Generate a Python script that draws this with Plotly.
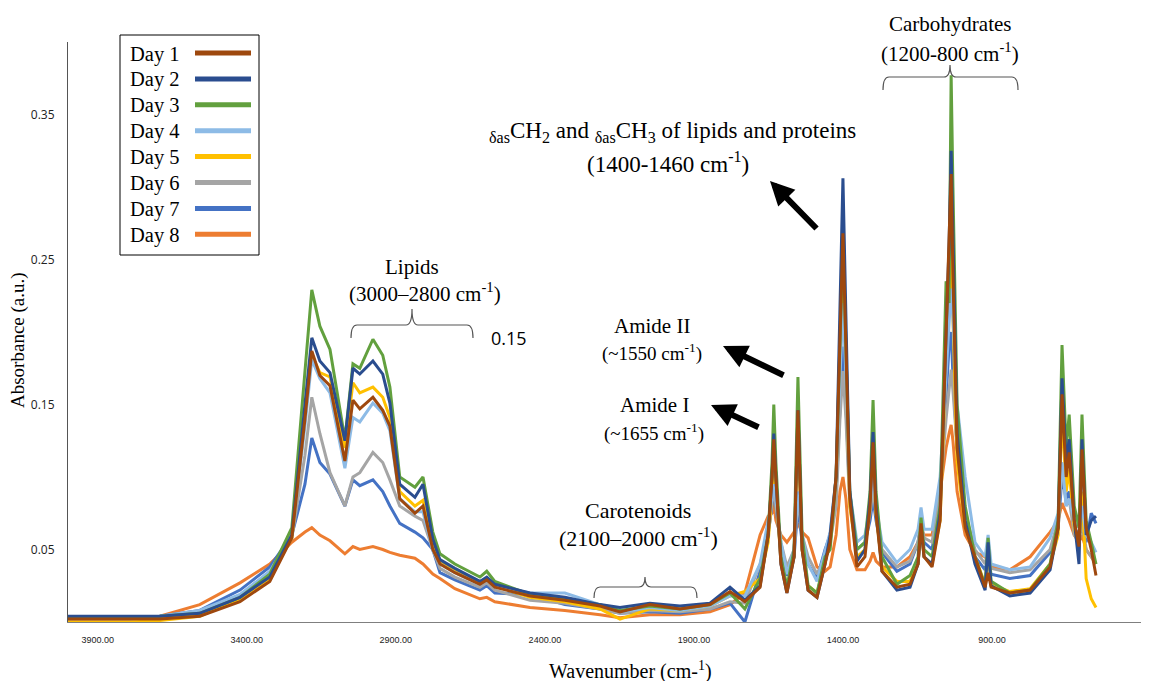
import plotly.graph_objects as go

# ---------------- data ----------------
wavenumber = [4000, 3893, 3793, 3692, 3558, 3423, 3323, 3249, 3205, 3182,
              3155, 3121, 3071, 3044, 3021, 2977, 2944, 2920, 2887, 2836,
              2809, 2776, 2752, 2702, 2618, 2595, 2568, 2450, 2333, 2215,
              2148, 2048, 1947, 1846, 1779, 1729, 1678, 1651, 1638, 1632,
              1625, 1608, 1588, 1564, 1551, 1537, 1517, 1487, 1460, 1443,
              1423, 1410, 1400, 1390, 1377, 1353, 1326, 1309, 1299, 1289,
              1269, 1219, 1175, 1148, 1138, 1128, 1101, 1074, 1054, 1044,
              1037, 1031, 1017, 990, 957, 923, 913, 903, 840, 772,
              705, 678, 665, 651, 641, 624, 608, 598, 584, 567,
              551]

day1 = [0.002, 0.002, 0.002, 0.002, 0.004, 0.014, 0.028, 0.058, 0.140, 0.187,
        0.170, 0.163, 0.111, 0.153, 0.147, 0.155, 0.146, 0.135, 0.085, 0.075,
        0.080, 0.050, 0.040, 0.034, 0.026, 0.029, 0.024, 0.018, 0.015, 0.011,
        0.007, 0.012, 0.009, 0.012, 0.021, 0.014, 0.024, 0.060, 0.100, 0.126,
        0.100, 0.040, 0.020, 0.045, 0.146, 0.050, 0.022, 0.017, 0.040, 0.055,
        0.100, 0.200, 0.268, 0.190, 0.085, 0.038, 0.045, 0.080, 0.124, 0.075,
        0.035, 0.024, 0.026, 0.040, 0.068, 0.045, 0.038, 0.070, 0.200, 0.250,
        0.309, 0.240, 0.120, 0.065, 0.045, 0.024, 0.034, 0.024, 0.020, 0.022,
        0.038, 0.065, 0.157, 0.100, 0.117, 0.070, 0.052, 0.119, 0.065, 0.050,
        0.032]

day2 = [0.004, 0.004, 0.004, 0.004, 0.006, 0.017, 0.031, 0.060, 0.150, 0.196,
        0.180, 0.172, 0.125, 0.175, 0.171, 0.180, 0.171, 0.151, 0.095, 0.086,
        0.095, 0.057, 0.043, 0.037, 0.028, 0.031, 0.026, 0.020, 0.017, 0.012,
        0.010, 0.013, 0.011, 0.013, 0.024, 0.015, 0.025, 0.060, 0.100, 0.130,
        0.100, 0.040, 0.020, 0.045, 0.146, 0.050, 0.022, 0.017, 0.040, 0.060,
        0.100, 0.220, 0.306, 0.210, 0.090, 0.042, 0.050, 0.085, 0.131, 0.080,
        0.035, 0.022, 0.024, 0.040, 0.066, 0.045, 0.040, 0.075, 0.200, 0.260,
        0.325, 0.260, 0.130, 0.070, 0.040, 0.022, 0.055, 0.025, 0.018, 0.020,
        0.036, 0.065, 0.168, 0.110, 0.126, 0.070, 0.040, 0.126, 0.060, 0.070,
        0.073]

day3 = [0.003, 0.003, 0.003, 0.004, 0.006, 0.017, 0.033, 0.065, 0.170, 0.229,
        0.204, 0.188, 0.126, 0.178, 0.175, 0.195, 0.184, 0.162, 0.100, 0.093,
        0.100, 0.062, 0.047, 0.040, 0.031, 0.035, 0.028, 0.019, 0.016, 0.012,
        0.008, 0.011, 0.009, 0.012, 0.020, 0.009, 0.030, 0.060, 0.110, 0.150,
        0.110, 0.045, 0.024, 0.050, 0.169, 0.060, 0.025, 0.020, 0.045, 0.050,
        0.100, 0.200, 0.262, 0.190, 0.090, 0.050, 0.055, 0.090, 0.153, 0.090,
        0.045, 0.026, 0.032, 0.045, 0.072, 0.050, 0.045, 0.080, 0.235, 0.220,
        0.377, 0.300, 0.150, 0.080, 0.045, 0.025, 0.058, 0.028, 0.020, 0.022,
        0.040, 0.070, 0.191, 0.120, 0.143, 0.080, 0.065, 0.143, 0.070, 0.055,
        0.040]

day4 = [0.003, 0.003, 0.003, 0.004, 0.008, 0.019, 0.035, 0.060, 0.135, 0.181,
        0.168, 0.158, 0.106, 0.141, 0.138, 0.151, 0.144, 0.132, 0.085, 0.076,
        0.076, 0.049, 0.040, 0.034, 0.026, 0.029, 0.025, 0.020, 0.020, 0.012,
        0.007, 0.010, 0.008, 0.011, 0.018, 0.018, 0.040, 0.070, 0.085, 0.095,
        0.085, 0.055, 0.033, 0.050, 0.090, 0.060, 0.040, 0.028, 0.050, 0.062,
        0.100, 0.170, 0.220, 0.170, 0.090, 0.055, 0.060, 0.080, 0.100, 0.080,
        0.055, 0.041, 0.050, 0.064, 0.079, 0.064, 0.064, 0.100, 0.170, 0.200,
        0.230, 0.210, 0.150, 0.100, 0.055, 0.045, 0.060, 0.040, 0.036, 0.038,
        0.058, 0.075, 0.110, 0.080, 0.085, 0.070, 0.065, 0.080, 0.060, 0.055,
        0.048]

day5 = [0.000, 0.000, 0.000, 0.001, 0.004, 0.016, 0.030, 0.058, 0.140, 0.184,
        0.172, 0.169, 0.120, 0.165, 0.158, 0.162, 0.155, 0.141, 0.090, 0.080,
        0.084, 0.053, 0.041, 0.035, 0.027, 0.030, 0.025, 0.017, 0.014, 0.009,
        0.002, 0.009, 0.008, 0.011, 0.018, 0.021, 0.030, 0.055, 0.090, 0.115,
        0.090, 0.042, 0.024, 0.045, 0.130, 0.050, 0.025, 0.020, 0.042, 0.055,
        0.100, 0.190, 0.245, 0.180, 0.080, 0.045, 0.050, 0.080, 0.115, 0.075,
        0.038, 0.028, 0.028, 0.040, 0.064, 0.045, 0.040, 0.070, 0.180, 0.220,
        0.270, 0.210, 0.110, 0.065, 0.045, 0.026, 0.050, 0.026, 0.021, 0.023,
        0.040, 0.060, 0.145, 0.090, 0.105, 0.065, 0.050, 0.090, 0.030, 0.016,
        0.010]

day6 = [0.002, 0.002, 0.002, 0.003, 0.006, 0.017, 0.032, 0.058, 0.115, 0.155,
        0.130, 0.103, 0.080, 0.100, 0.103, 0.117, 0.110, 0.098, 0.080, 0.073,
        0.070, 0.050, 0.037, 0.031, 0.024, 0.027, 0.022, 0.015, 0.013, 0.009,
        0.006, 0.008, 0.007, 0.009, 0.014, 0.013, 0.040, 0.060, 0.080, 0.093,
        0.080, 0.055, 0.038, 0.050, 0.085, 0.060, 0.045, 0.033, 0.045, 0.055,
        0.080, 0.140, 0.173, 0.140, 0.080, 0.050, 0.055, 0.075, 0.091, 0.075,
        0.050, 0.038, 0.042, 0.055, 0.070, 0.058, 0.055, 0.090, 0.140, 0.160,
        0.174, 0.160, 0.120, 0.075, 0.050, 0.040, 0.050, 0.037, 0.034, 0.036,
        0.050, 0.070, 0.110, 0.080, 0.085, 0.060, 0.055, 0.070, 0.050, 0.045,
        0.040]

day7 = [0.003, 0.003, 0.003, 0.004, 0.008, 0.022, 0.038, 0.060, 0.095, 0.127,
        0.110, 0.102, 0.080, 0.098, 0.094, 0.098, 0.090, 0.080, 0.068, 0.062,
        0.058, 0.050, 0.034, 0.029, 0.022, 0.025, 0.020, 0.019, 0.012, 0.009,
        0.006, 0.007, 0.006, 0.009, 0.013, 0.000, 0.035, 0.060, 0.080, 0.090,
        0.080, 0.050, 0.032, 0.045, 0.080, 0.055, 0.040, 0.030, 0.050, 0.060,
        0.090, 0.150, 0.190, 0.150, 0.085, 0.050, 0.055, 0.070, 0.085, 0.070,
        0.048, 0.035, 0.040, 0.055, 0.068, 0.055, 0.050, 0.085, 0.150, 0.190,
        0.200, 0.170, 0.120, 0.070, 0.045, 0.036, 0.045, 0.033, 0.030, 0.032,
        0.048, 0.065, 0.100, 0.085, 0.090, 0.065, 0.060, 0.065, 0.055, 0.075,
        0.068]

day8 = [0.002, 0.002, 0.002, 0.004, 0.012, 0.027, 0.040, 0.055, 0.062, 0.065,
        0.060, 0.056, 0.047, 0.052, 0.050, 0.052, 0.050, 0.048, 0.046, 0.044,
        0.040, 0.033, 0.030, 0.023, 0.016, 0.017, 0.014, 0.010, 0.008, 0.005,
        0.003, 0.005, 0.005, 0.007, 0.012, 0.020, 0.060, 0.073, 0.075, 0.082,
        0.070, 0.060, 0.055, 0.062, 0.068, 0.062, 0.058, 0.038, 0.035, 0.038,
        0.060, 0.090, 0.100, 0.085, 0.050, 0.036, 0.036, 0.042, 0.048, 0.042,
        0.038, 0.038, 0.045, 0.055, 0.065, 0.060, 0.060, 0.090, 0.120, 0.130,
        0.136, 0.125, 0.090, 0.060, 0.048, 0.045, 0.042, 0.038, 0.036, 0.045,
        0.062, 0.070, 0.082, 0.075, 0.070, 0.060, 0.055, 0.060, 0.050, 0.045,
        0.040]

day_names = ["Day 1", "Day 2", "Day 3", "Day 4", "Day 5", "Day 6", "Day 7", "Day 8"]
day_colors = ["#9E480E", "#2A4D8F", "#62A03E", "#8DBBE6", "#FFC000", "#A5A5A5", "#4472C4", "#ED7D31"]

x_tick_vals = [3900, 3400, 2900, 2400, 1900, 1400, 900, 400]
x_tick_text = ["3900.00", "3400.00", "2900.00", "2400.00", "1900.00", "1400.00", "900.00", "400.00"]
y_tick_vals = [0.05, 0.15, 0.25, 0.35]
y_tick_text = ["0.05", "0.15", "0.25", "0.35"]

series = [day1, day2, day3, day4, day5, day6, day7, day8]
for s in series:
    assert len(s) == len(wavenumber)

# ---------------- figure ----------------
W, H = 1154, 681
ML, MR, MT, MB = 68, 13, 42, 59
PW, PH = W - ML - MR, H - MT - MB

def pxx(x):
    return (x - ML) / PW

def pxy(y):
    return (H - MB - y) / PH

SERIF = "Liberation Serif, Times New Roman, serif"
SANS = "Open Sans, Liberation Sans, sans-serif"

fig = go.Figure()
for i in reversed(range(len(series))):
    fig.add_trace(go.Scatter(
        x=wavenumber, y=series[i], mode="lines", name=day_names[i],
        line=dict(color=day_colors[i], width=3), showlegend=False,
    ))

annotations = []
shapes = []

def text(x, y, t, size, font=SERIF, xanchor="center", angle=0):
    annotations.append(dict(
        x=pxx(x), y=pxy(y), xref="paper", yref="paper", text=t, showarrow=False,
        xanchor=xanchor, yanchor="middle", textangle=angle,
        font=dict(family=font, size=size, color="black"),
    ))

def arrow(hx, hy, tx, ty):
    annotations.append(dict(
        x=pxx(hx), y=pxy(hy), xref="paper", yref="paper", text="",
        showarrow=True, ax=tx - hx, ay=ty - hy, axref="pixel", ayref="pixel",
        arrowhead=2, arrowsize=0.8, arrowwidth=6, arrowcolor="black", standoff=0,
    ))

def brace(x0, x1, xm, yline, ybot, ytop):
    r = 6
    pts = [
        f"M {pxx(x0)},{pxy(ybot)}",
        f"Q {pxx(x0)},{pxy(yline)} {pxx(x0 + r)},{pxy(yline)}",
        f"L {pxx(xm - r)},{pxy(yline)}",
        f"Q {pxx(xm)},{pxy(yline)} {pxx(xm)},{pxy(ytop)}",
        f"Q {pxx(xm)},{pxy(yline)} {pxx(xm + r)},{pxy(yline)}",
        f"L {pxx(x1 - r)},{pxy(yline)}",
        f"Q {pxx(x1)},{pxy(yline)} {pxx(x1)},{pxy(ybot)}",
    ]
    shapes.append(dict(type="path", xref="paper", yref="paper", path=" ".join(pts),
                       line=dict(color="#555555", width=1.2)))

# text labels
text(950, 24, "Carbohydrates", 21)
text(950, 53, "(1200-800 cm<sup>-1</sup>)", 21)
brace(883, 1018, 950, 77, 90, 65)

text(672, 132, "<sub>δas</sub>CH<sub>2</sub> and <sub>δas</sub>CH<sub>3</sub> of lipids and proteins", 23)
text(668, 162, "(1400-1460 cm<sup>-1</sup>)", 23)
arrow(770, 181, 818, 230)

text(652, 326, "Amide II", 21)
text(652, 352, "(~1550 cm<sup>-1</sup>)", 19)
arrow(723, 346, 785, 376)

text(654, 405, "Amide I", 21)
text(654, 432, "(~1655 cm<sup>-1</sup>)", 19)
arrow(711, 405, 760, 428)

text(638, 510, "Carotenoids", 22)
text(638, 537, "(2100–2000 cm<sup>-1</sup>)", 22)
brace(594, 697, 645, 587, 598, 577)

text(412, 267, "Lipids", 21)
text(425, 292, "(3000–2800 cm<sup>-1</sup>)", 21)
brace(351, 473, 412, 325, 338, 309)

text(509, 338, "0.15", 18, font=SANS)

# axis titles
text(18, 340, "Absorbance (a.u.)", 19, angle=-90)
text(630, 670, "Wavenumber (cm-<sup>1</sup>)", 20)

# custom legend (text left, line swatch right)
shapes.append(dict(type="rect", xref="paper", yref="paper",
                   x0=pxx(120), x1=pxx(259), y0=pxy(35), y1=pxy(255),
                   line=dict(color="black", width=1), fillcolor="white", layer="above"))
for i, (name, col) in enumerate(zip(day_names, day_colors)):
    yy = 54 + 25.9 * i
    text(128, yy, name, 20.5, xanchor="left")
    shapes.append(dict(type="line", xref="paper", yref="paper",
                       x0=pxx(195), x1=pxx(251), y0=pxy(yy - 1), y1=pxy(yy - 1),
                       line=dict(color=col, width=5), layer="above"))

fig.update_layout(
    width=W, height=H,
    margin=dict(l=ML, r=MR, t=MT, b=MB, pad=0),
    paper_bgcolor="white", plot_bgcolor="white",
    showlegend=False,
    annotations=annotations, shapes=shapes,
    xaxis=dict(range=[4000, 400], tickvals=x_tick_vals, ticktext=x_tick_text,
               showgrid=False, zeroline=False, showline=True, linecolor="#7f7f7f", linewidth=1,
               ticks="outside", ticklen=9, tickcolor="rgba(0,0,0,0)",
               tickfont=dict(family="Liberation Sans, sans-serif", size=9, color="#222222")),
    yaxis=dict(range=[0, 0.40], tickvals=y_tick_vals, ticktext=y_tick_text,
               showgrid=False, zeroline=False, showline=True, linecolor="#555555", linewidth=1,
               ticks="outside", ticklen=10, tickcolor="rgba(0,0,0,0)",
               tickfont=dict(family=SANS, size=12, color="#222222")),
)

fig.write_html("out.html")
